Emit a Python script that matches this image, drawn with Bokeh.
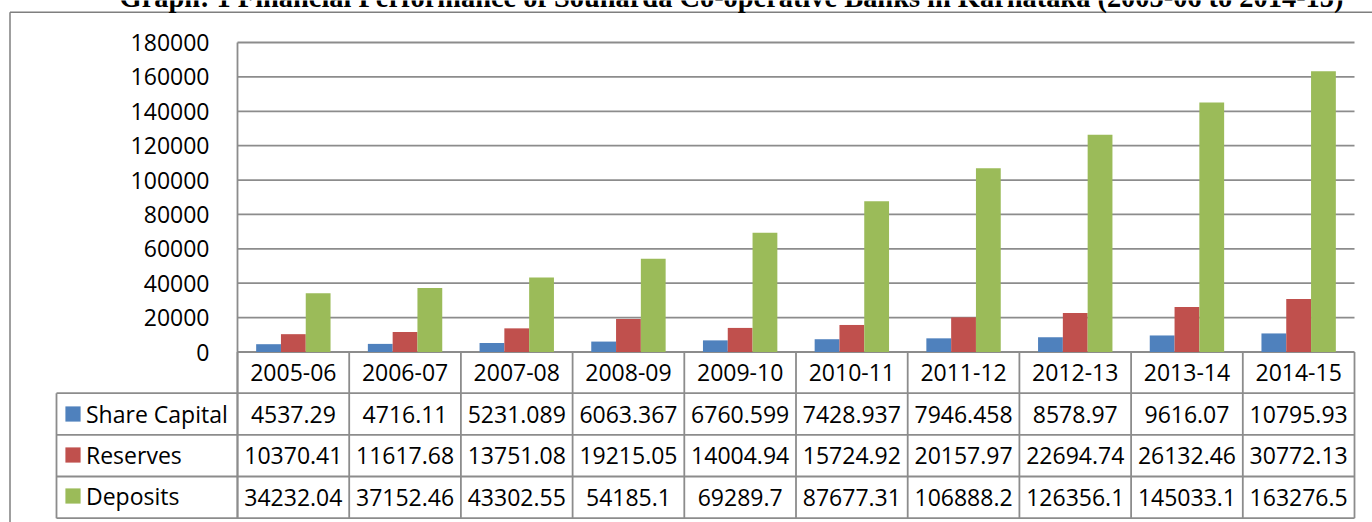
from bokeh.plotting import figure
from bokeh.models import (Range1d, ColumnDataSource, FixedTicker, NumeralTickFormatter,
                          Legend, LegendItem, Label, LinearAxis)
from bokeh.core.properties import value
from bokeh.embed import file_html
from bokeh.resources import INLINE

# ---------------- data ----------------
title_text = "Graph: 1 Financial Performance of Souharda Co-operative Banks in Karnataka (2005-06 to 2014-15)"
years = ["2005-06", "2006-07", "2007-08", "2008-09", "2009-10",
         "2010-11", "2011-12", "2012-13", "2013-14", "2014-15"]
share_capital = [4537.29, 4716.11, 5231.089, 6063.367, 6760.599,
                 7428.937, 7946.458, 8578.97, 9616.07, 10795.93]
reserves = [10370.41, 11617.68, 13751.08, 19215.05, 14004.94,
            15724.92, 20157.97, 22694.74, 26132.46, 30772.13]
deposits = [34232.04, 37152.46, 43302.55, 54185.1, 69289.7,
            87677.31, 106888.2, 126356.1, 145033.1, 163276.5]
series_names = ["Share Capital", "Reserves", "Deposits"]
y_ticks = [0, 20000, 40000, 60000, 80000, 100000, 120000, 140000, 160000, 180000]

# ---------------- layout / style ----------------
W, H = 1372, 522
X0_PX, X1_PX = 237, 1354          # category area left / right (pixels)
YTOP_PX, Y0_PX = 42, 351.5        # y=180000 and y=0 (pixels)
ROW_LINES_PX = [392.7, 434.3, 476.0, 517.7]
LEG_LEFT_PX = 56
COLORS = ["#4F81BD", "#C0504D", "#9BBB59"]
GRID = "#8c8c8c"
LW = 1.8
FONT = "Open Sans"
FS = "23px"
BAR_W = 0.222

n = len(years)
ymax = y_ticks[-1]
ppu = (Y0_PX - YTOP_PX) / ymax
cat_w = (X1_PX - X0_PX) / n


def ydat(py):
    return (Y0_PX - py) / ppu


def xdat(px):
    return (px - X0_PX) / cat_w


p = figure(width=W, height=H,
           x_range=Range1d(xdat(0), xdat(W)),
           y_range=Range1d(ydat(H), ydat(0)),
           x_axis_location=None, y_axis_location=None,
           output_backend="svg", toolbar_location=None,
           min_border=0, min_border_left=0, min_border_right=0,
           min_border_top=0, min_border_bottom=0)
p.outline_line_color = None
p.background_fill_color = "white"
p.border_fill_color = "white"
p.grid.visible = False

# y axis (drawn at the left edge of the category area)
yaxis = LinearAxis(fixed_location=0, ticker=FixedTicker(ticks=y_ticks),
                   formatter=NumeralTickFormatter(format="0"),
                   bounds=(ydat(ROW_LINES_PX[-1]), ymax))
yaxis.major_tick_line_color = None
yaxis.minor_tick_line_color = None
yaxis.major_tick_out = 0
yaxis.major_tick_in = 0
yaxis.major_label_standoff = 28
yaxis.major_label_text_font = FONT
yaxis.major_label_text_font_size = FS
yaxis.major_label_text_color = "black"
yaxis.axis_line_color = GRID
yaxis.axis_line_width = LW
p.add_layout(yaxis, "left")

# horizontal grid lines at the tick values
p.segment(x0=[0] * len(y_ticks), x1=[n] * len(y_ticks), y0=y_ticks, y1=y_ticks,
          line_color=GRID, line_width=LW)

# bars
xc = [i + 0.5 for i in range(n)]
src = ColumnDataSource(dict(x=xc, s0=share_capital, s1=reserves, s2=deposits))
renderers = []
for k, col in enumerate(["s0", "s1", "s2"]):
    r = p.vbar(x=[v + (k - 1) * BAR_W for v in xc], top=src.data[col], width=BAR_W,
               fill_color=COLORS[k], line_color=None)
    renderers.append(r)

# ---------------- data table ----------------
row_y = [ydat(v) for v in ROW_LINES_PX]
row_mid = [ydat((a + b) / 2) for a, b in zip([Y0_PX] + ROW_LINES_PX[:-1], ROW_LINES_PX)]
xl = xdat(LEG_LEFT_PX)

# vertical separators
p.segment(x0=list(range(n + 1)), x1=list(range(n + 1)),
          y0=[0] * (n + 1), y1=[row_y[-1]] * (n + 1), line_color=GRID, line_width=LW)
p.segment(x0=[xl], x1=[xl], y0=[row_y[0]], y1=[row_y[-1]], line_color=GRID, line_width=LW)
# horizontal separators (incl. legend column)
p.segment(x0=[xl] * 4, x1=[n] * 4, y0=row_y, y1=row_y, line_color=GRID, line_width=LW)

# category labels row and values
p.text(x=xc, y=[row_mid[0]] * n, text=years, text_font=value(FONT), text_font_size=FS,
       text_align="center", text_baseline="middle", text_color="black")
for k, vals in enumerate([share_capital, reserves, deposits]):
    p.text(x=xc, y=[row_mid[k + 1]] * n, text=[str(v) for v in vals],
           text_font=value(FONT), text_font_size=FS,
           text_align="center", text_baseline="middle", text_color="black")

# legend keys in the table's first column
legend = Legend(items=[LegendItem(label=series_names[k], renderers=[renderers[k]]) for k in range(3)],
                location=(63, int(round(H - ROW_LINES_PX[0] - 3 * 41))),
                orientation="vertical", padding=0, margin=0, spacing=0,
                label_height=41, glyph_height=19, glyph_width=19, label_standoff=4,
                label_text_font=FONT, label_text_font_size=FS, label_text_color="black",
                border_line_color=None, background_fill_alpha=0)
p.add_layout(legend)

# outer chart border (left and top edges visible)
p.segment(x0=[xdat(9.5), xdat(9.5)], x1=[xdat(9.5), xdat(W + 20)],
          y0=[ydat(11.7), ydat(11.7)], y1=[ydat(H + 20), ydat(11.7)],
          line_color="#7f7f7f", line_width=1.5)

# title (top clipped by the page edge, as in the source)
p.add_layout(Label(x=xdat(731), y=ydat(-3.5), text=title_text, text_align="center",
                   text_baseline="alphabetic", text_font="Liberation Serif",
                   text_font_style="bold", text_font_size="28.4px", text_color="black"))

open("out.html", "w").write(file_html(p, INLINE))
